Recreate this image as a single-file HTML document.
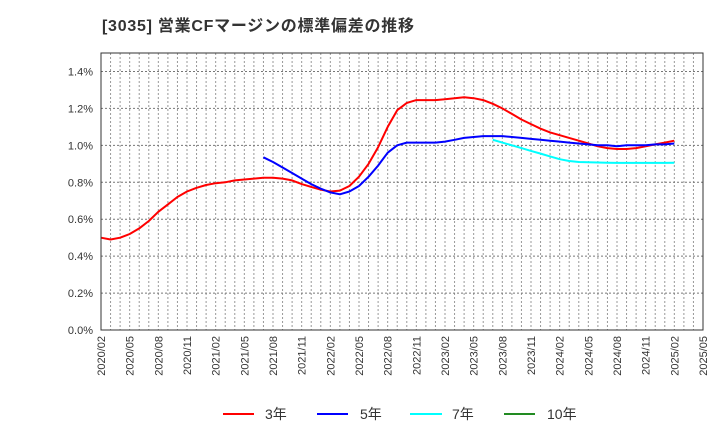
<!DOCTYPE html>
<html><head><meta charset="utf-8"><style>
body{margin:0;background:#fff;font-family:"Liberation Sans","Noto Sans CJK JP",sans-serif}
</style></head><body>
<svg id="c" width="720" height="440" xmlns="http://www.w3.org/2000/svg" font-family="Liberation Sans, Noto Sans CJK JP, sans-serif">
<text x="102" y="31" font-size="16" font-weight="bold" fill="#333" textLength="312" lengthAdjust="spacing">[3035]  営業CFマージンの標準偏差の推移</text>
<g id="grid"></g><g id="series"></g><g id="axes"></g>
<g font-size="14" fill="#333">
<line x1="223" y1="414" x2="254" y2="414" stroke="#ff0000" stroke-width="2"/><text x="265" y="419">3年</text>
<line x1="317" y1="414" x2="348" y2="414" stroke="#0000ff" stroke-width="2"/><text x="360" y="419">5年</text>
<line x1="410" y1="414" x2="442" y2="414" stroke="#00ffff" stroke-width="2"/><text x="452" y="419">7年</text>
<line x1="504" y1="414" x2="535" y2="414" stroke="#228b22" stroke-width="2"/><text x="547" y="419">10年</text>
</g>
</svg>
<script>
const yTicks=[0,0.2,0.4,0.6,0.8,1.0,1.2,1.4];
const xLabels=["2020/02","2020/05","2020/08","2020/11","2021/02","2021/05","2021/08","2021/11","2022/02","2022/05","2022/08","2022/11","2023/02","2023/05","2023/08","2023/11","2024/02","2024/05","2024/08","2024/11","2025/02","2025/05"];
const red=[0.50,0.49,0.50,0.52,0.55,0.59,0.64,0.68,0.72,0.75,0.77,0.785,0.795,0.80,0.81,0.815,0.82,0.825,0.825,0.82,0.81,0.79,0.775,0.76,0.75,0.755,0.78,0.83,0.90,0.99,1.10,1.19,1.23,1.245,1.245,1.245,1.25,1.255,1.26,1.255,1.245,1.225,1.20,1.17,1.14,1.115,1.09,1.07,1.055,1.04,1.025,1.01,0.995,0.985,0.98,0.98,0.985,0.995,1.005,1.015,1.025];
const blueStart=17;
const blue=[0.935,0.91,0.88,0.85,0.82,0.79,0.765,0.745,0.735,0.75,0.78,0.83,0.89,0.96,1.00,1.015,1.015,1.015,1.015,1.02,1.03,1.04,1.045,1.05,1.05,1.05,1.045,1.04,1.035,1.03,1.025,1.02,1.015,1.01,1.005,1.0,1.0,0.995,1.0,1.0,1.0,1.005,1.005,1.01];
const cyanStart=41;
const cyan=[1.03,1.015,1.0,0.985,0.97,0.955,0.94,0.925,0.915,0.91,0.908,0.907,0.906,0.905,0.905,0.905,0.905,0.905,0.905,0.906];
const L=101,R=703,T=53,B=330,months=63;
const X=i=>L+(R-L)*i/months, Y=v=>B-(B-T)*v/1.5;
const ns="http://www.w3.org/2000/svg";
function mk(p,t,a){const e=document.createElementNS(ns,t);for(const k in a)e.setAttribute(k,a[k]);p.appendChild(e);return e;}
const g=document.getElementById('grid'),ax=document.getElementById('axes'),s=document.getElementById('series');
for(let i=1;i<months;i++){const l=mk(g,'line',{x1:X(i),x2:X(i),y1:T,y2:B,stroke:'#999','stroke-dasharray':'2,2','stroke-width':1});

}
yTicks.forEach(v=>{if(v>0){const l=mk(g,'line',{x1:L,x2:R,y1:Y(v),y2:Y(v),stroke:'#777','stroke-dasharray':'2,2','stroke-width':1});

}
const t=mk(ax,'text',{x:L-8,y:Y(v)+4,'text-anchor':'end','font-size':11,fill:'#333'});t.textContent=v.toFixed(1)+'%';

});
xLabels.forEach((lab,i)=>{const x=X(i*3);const t=mk(ax,'text',{x:0,y:0,transform:`translate(${x+4},336) rotate(-90)`,'text-anchor':'end','font-size':11,fill:'#333'});t.textContent=lab;

});
const fr=mk(ax,'rect',{x:L,y:T,width:R-L,height:B-T,fill:'none',stroke:'#333','stroke-width':1});


function line(arr,start,color,name){const d=arr.map((v,i)=>(i?'L':'M')+X(start+i).toFixed(1)+','+Y(v).toFixed(1)).join('');
const p=mk(s,'path',{d:d,fill:'none',stroke:color,'stroke-width':2,'stroke-linejoin':'round'});

}
line(red,0,'#ff0000','series-3y');
line(blue,blueStart,'#0000ff','series-5y');
line(cyan,cyanStart,'#00ffff','series-7y');
</script>
</body></html>
